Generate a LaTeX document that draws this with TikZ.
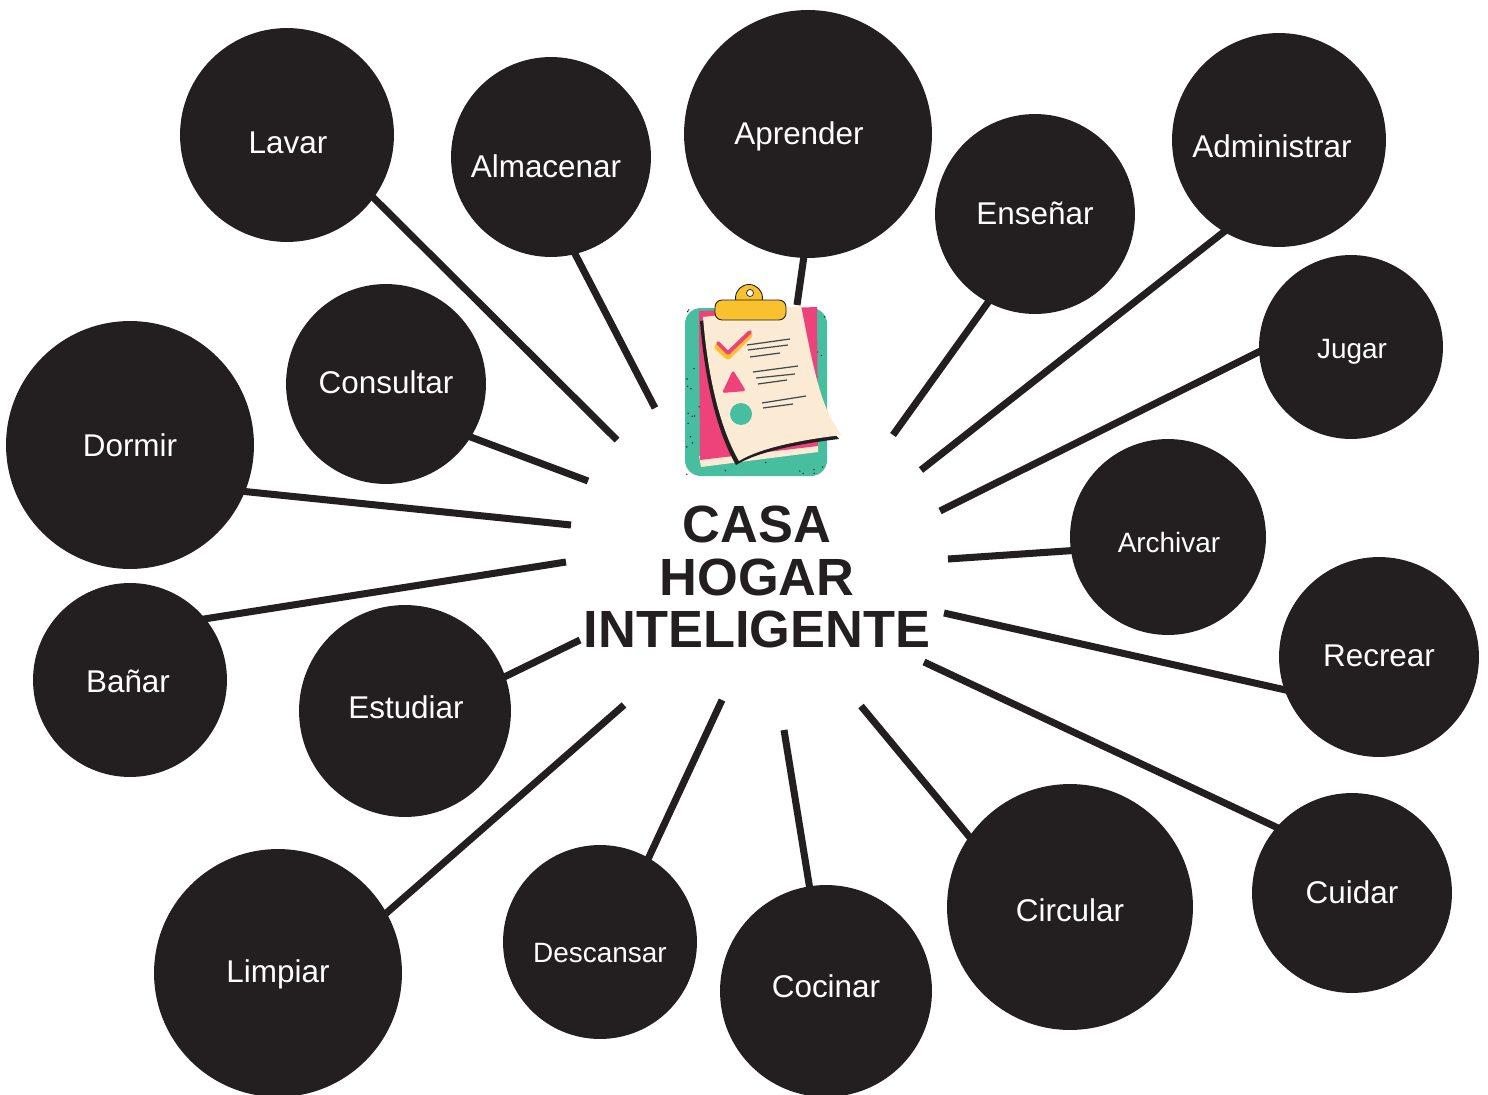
\documentclass[tikz,border=0pt]{standalone}
\usepackage{fontspec}
\setmainfont{Liberation Sans}
\definecolor{ink}{HTML}{231F20}
\definecolor{boardgreen}{HTML}{46BE9F}
\definecolor{sheetpink}{HTML}{EE437A}
\definecolor{paper}{HTML}{FCEBD4}
\definecolor{clipyellow}{HTML}{F8C12D}
\definecolor{slate}{HTML}{3E4B50}
\newcommand\sheetpath{(703,317) -- (801,306) .. controls (812,360) and (820,410) .. (842,435)
  .. controls (800,440) and (760,448) .. (739,461) .. controls (721,430) and (708,380) .. (703,317) -- cycle}
\begin{document}
\begin{tikzpicture}[x=0.02cm,y=-0.02cm,
  bub/.style={circle,fill=ink,inner sep=0pt,minimum size=#1*0.04cm},
  tag/.style={text=white,inner sep=0pt,text height=12.8pt,text depth=0pt,font=\fontsize{17.9}{20}\selectfont},
  stag/.style={tag,text height=11.4pt,font=\fontsize{15.9}{18}\selectfont},
  spoke/.style={ink,line width=4pt,shorten <=-4pt},
  note/.style={slate,line width=0.7pt}]
  \useasboundingbox[fill=white] (0,0) rectangle (1488,1095);

  \node[bub=107,label={[tag,shift={(1,7.5)}]center:Lavar}] (lavar) at (287,135) {};
  \node[bub=100,label={[tag,shift={(-5,9.5)}]center:Almacenar}] (almacenar) at (551,157) {};
  \node[bub=124,label={[tag,shift={(-9,-1)}]center:Aprender}] (aprender) at (808,134) {};
  \node[bub=100,label={[tag,shift={(0,-1)}]center:Enseñar}] (ensenar) at (1035,214) {};
  \node[bub=107,label={[tag,shift={(-7,6)}]center:Administrar}] (administrar) at (1279,140) {};
  \node[bub=92,label={[stag,shift={(1,1.5)}]center:Jugar}] (jugar) at (1351,347) {};
  \node[bub=100,label={[tag,shift={(0,-2)}]center:Consultar}] (consultar) at (386,384) {};
  \node[bub=124,label={[tag]center:Dormir}] (dormir) at (130,445) {};
  \node[bub=98,label={[stag,shift={(1,5.5)}]center:Archivar}] (archivar) at (1168,537) {};
  \node[bub=100,label={[tag,shift={(0,-2)}]center:Recrear}] (recrear) at (1379,657) {};
  \node[bub=97,label={[tag,shift={(-2,1)}]center:Bañar}] (banar) at (130,680) {};
  \node[bub=106,label={[tag,shift={(1,-4)}]center:Estudiar}] (estudiar) at (405,711) {};
  \node[bub=124,label={[tag,shift={(0,-2)}]center:Limpiar}] (limpiar) at (278,973) {};
  \node[bub=97,label={[stag,shift={(0,10)}]center:Descansar}] (descansar) at (600,942) {};
  \node[bub=106,label={[tag,shift={(0,-5)}]center:Cocinar}] (cocinar) at (826,991) {};
  \node[bub=123,label={[tag,shift={(0,3.5)}]center:Circular}] (circular) at (1070,907) {};
  \node[bub=100,label={[tag,shift={(0,-1)}]center:Cuidar}] (cuidar) at (1352,893) {};

  \node[align=center,text=ink,font=\bfseries\fontsize{29.8}{29.8}\selectfont] (title) at (757,577) {CASA\\HOGAR\\INTELIGENTE};

  \foreach \n/\a/\x/\y in {lavar/-36/617/440, almacenar/-76/655/408, aprender/-92/797/305,
      ensenar/-118/893/435, administrar/-121/921/470, jugar/-177/940/511,
      consultar/-32/588/481, dormir/-22/571/525, archivar/-172/948/559,
      banar/39/566/562, recrear/-161/944/613, estudiar/19/580/640,
      limpiar/29/624/705, descansar/60/722/700, cocinar/99/784/730,
      circular/145/861/706, cuidar/139/924/662}{
    \coordinate (\n-end) at (\x,\y);
    \draw[spoke] (\n.\a) -- (\n-end);
  }

  % clipboard
  \fill[boardgreen,rounded corners=9] (685,308) rectangle (827,476);
  \pgfmathsetseed{11}
  \foreach \i in {1,...,110}
    \fill[ink] (686+140*rnd,309+166*rnd) circle (0.45pt);
  \fill[paper] (699,456) -- (818,444) -- (818,452) -- (701,467) -- cycle;
  \fill[sheetpink] (699,311) -- (817,307) -- (818,446) -- (700,460) -- cycle;
  \fill[ink,shift={(-3,4)}] \sheetpath;
  \fill[paper] \sheetpath;
  \filldraw[fill=clipyellow,draw=ink,line width=0.5pt] (749,298) circle (0.27cm);
  \filldraw[fill=clipyellow,draw=ink,line width=0.5pt,rounded corners=4] (715,300) rectangle (786,320);
  \filldraw[fill=white,draw=ink,line width=0.4pt] (750,293) circle (0.07cm);
  \draw[clipyellow,line width=4pt,line cap=round,line join=round] (718,347) -- (728,356) -- (749,335);
  \draw[sheetpink,line width=2.2pt,line cap=round,line join=round] (718,343) -- (728,353) -- (750,332);
  \fill[sheetpink,rounded corners=1.5] (722,393) -- (746,391) -- (733,370) -- cycle;
  \fill[boardgreen] (741,414) circle (0.22cm);
  \draw[note] (747,345) -- (790,339) (748,350) -- (788,345) (750,357) -- (780,353);
  \draw[note] (753,372) -- (798,366) (756,378) -- (795,374) (758,384) -- (787,380);
  \draw[note] (762,403) -- (806,396) (763,408) -- (793,404);
\end{tikzpicture}
\end{document}
